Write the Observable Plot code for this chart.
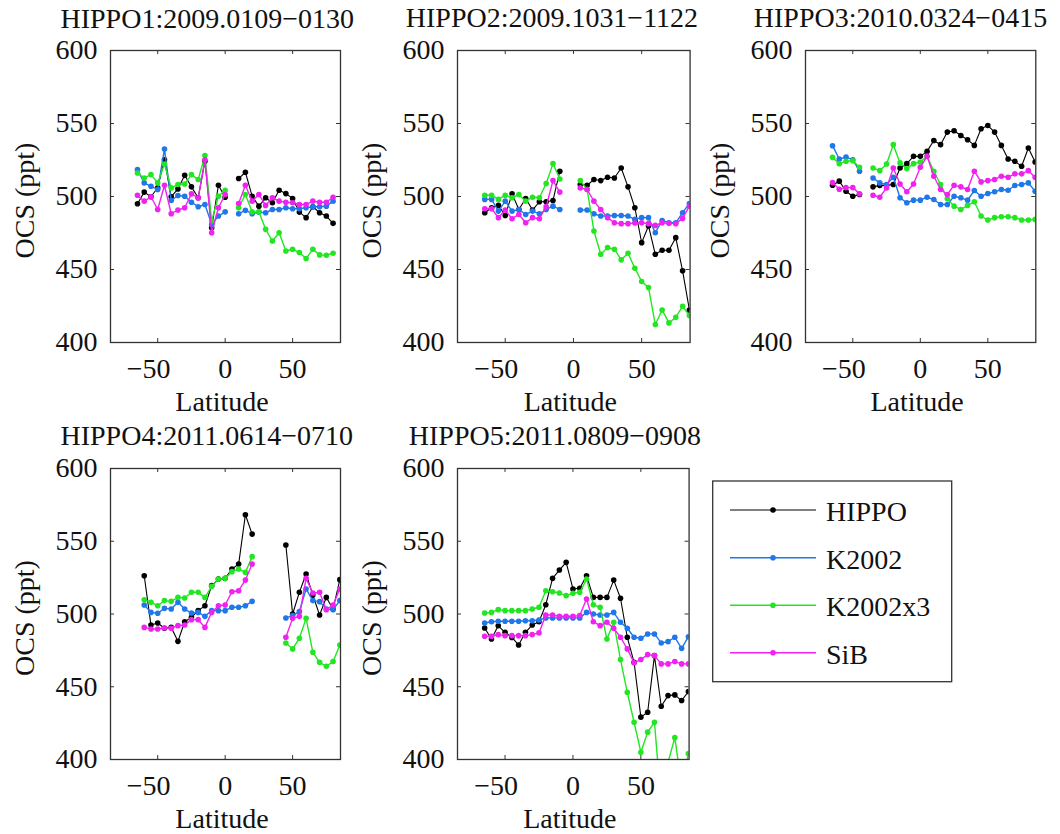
<!DOCTYPE html>
<html><head><meta charset="utf-8">
<script src="https://cdn.jsdelivr.net/npm/d3@7"></script>
<script src="https://cdn.jsdelivr.net/npm/@observablehq/plot@0.6"></script>
<style>
html,body{margin:0;padding:0;background:#fff;}
#chart{position:relative;width:1060px;height:834px;overflow:hidden;background:#fff;}
.panel{position:absolute;}
.panel svg{overflow:visible;display:block;max-width:none;}
</style></head><body><div id="chart"></div>
<script>
// ---------------- data ----------------
const seriesNames = ["HIPPO", "K2002", "K2002x3", "SiB"];
const xTicks = [-50, 0, 50];
const yTicks = [400, 450, 500, 550, 600];
const titles = ["HIPPO1:2009.0109\u22120130", "HIPPO2:2009.1031\u22121122", "HIPPO3:2010.0324\u22120415",
                "HIPPO4:2011.0614\u22120710", "HIPPO5:2011.0809\u22120908"];

// HIPPO1
const p1Lat = [-65,-60,-55,-50,-45,-40,-35,-30,-25,-20,-15,-10,-5,0,5,10,15,20,25,30,35,40,45,50,55,60,65,70,75,80];
const p1Hippo = [495.0,503.0,499.8,506.0,525.2,499.8,505.2,514.5,506.6,499.1,524.1,478.6,507.7,499.5,null,512.3,516.6,500.2,493.4,499.1,495.7,504.3,502.0,498.6,489.3,485.5,493.0,488.9,486.6,481.6];
const p1K2002 = [518.4,509.3,507.0,504.8,532.5,497.3,500.7,500.2,496.1,493.0,494.5,480.9,486.6,489.5,null,488.2,490.5,488.2,489.3,488.9,491.1,491.1,492.3,491.6,491.6,492.3,493.0,493.0,493.4,496.8];
const p1K2002x3 = [516.1,512.7,515.0,509.3,522.3,505.9,508.2,508.6,515.0,511.6,528.0,483.2,500.2,504.3,null,492.3,501.4,489.5,489.5,477.5,469.5,475.2,462.7,463.9,461.6,457.5,463.9,460.0,459.8,461.1];
const p1SiB = [500.9,496.8,499.8,491.1,507.7,488.2,490.7,492.3,501.8,499.1,525.2,475.2,492.3,501.4,null,495.2,507.7,496.8,501.4,493.9,499.1,496.8,496.1,495.7,494.5,494.5,496.8,496.1,496.1,499.5];

// HIPPO2
const p2Lat = [-65,-60,-55,-50,-45,-40,-35,-30,-25,-20,-15,-10,-5,0,5,10,15,20,25,30,35,40,45,50,55,60,65,70,75,80,85];
const p2Hippo = [488.9,492.3,493.9,487.0,501.8,491.1,498.6,490.7,496.4,496.4,497.3,517.3,null,null,508.2,507.7,511.6,510.9,513.2,512.7,519.5,506.6,492.3,468.4,479.8,460.4,463.2,463.2,471.8,449.1,422.3];
const p2K2002 = [498.0,498.0,490.0,496.8,490.0,491.1,487.7,490.0,488.2,491.1,493.4,491.1,null,null,490.7,490.7,488.2,486.6,486.6,487.0,487.0,486.6,484.3,485.5,485.5,475.2,483.6,482.0,482.0,488.9,495.2];
const p2K2002x3 = [500.9,500.9,498.0,500.9,499.1,501.4,496.8,499.5,499.1,508.9,522.5,512.0,null,null,510.9,504.8,476.4,460.4,465.0,463.9,456.6,461.1,450.9,441.8,437.7,412.3,422.3,413.4,417.3,424.8,418.4];
const p2SiB = [491.6,491.6,485.5,490.7,484.8,487.7,482.0,485.5,484.8,493.0,510.9,503.0,null,null,505.9,504.8,496.8,491.1,485.5,482.0,481.4,481.4,481.8,482.0,481.4,480.2,482.0,481.6,481.4,485.0,493.4];

// HIPPO3
const p3Lat = [-65,-60,-55,-50,-45,-40,-35,-30,-25,-20,-15,-10,-5,0,5,10,15,20,25,30,35,40,45,50,55,60,65,70,75,80,85];
const p3Hippo = [507.7,510.5,503.6,500.2,501.4,null,506.6,507.5,507.7,508.2,519.5,522.5,527.5,527.5,530.9,538.4,535.5,544.1,545.0,541.8,538.9,535.0,546.4,548.6,544.1,535.0,525.7,524.1,520.7,533.2,523.6];
const p3K2002 = [534.8,525.7,527.0,525.2,517.3,null,512.7,509.3,508.2,513.2,499.1,495.7,497.5,497.5,499.5,497.9,494.5,494.5,500.2,499.1,497.5,504.1,500.2,502.0,503.2,504.8,504.3,507.5,508.2,509.3,503.6];
const p3K2002x3 = [526.8,522.5,524.1,524.5,520.0,null,519.5,517.7,522.3,535.5,523.0,519.1,522.5,523.6,527.5,517.3,508.2,498.4,493.4,491.1,493.9,496.4,486.6,483.9,485.5,486.1,486.1,485.5,483.9,483.9,484.3];
const p3SiB = [509.5,505.0,506.1,506.1,501.8,null,500.9,499.5,505.9,519.5,508.6,503.2,508.6,520.0,527.5,513.9,504.8,501.4,507.7,506.6,504.8,517.3,510.0,510.9,511.6,513.9,513.2,515.5,515.5,517.7,513.2];

// HIPPO4
const p4Lat = [-60,-55,-50,-45,-40,-35,-30,-25,-20,-15,-10,-5,0,5,10,15,20,25,30,35,40,45,50,55,60,65,70,75,80,85];
const p4Hippo = [526.3,492.4,493.8,490.2,490.8,481.2,494.7,497.7,502.3,505.7,519.5,524.0,524.5,530.9,534.3,568.2,554.9,null,null,null,null,547.4,500.0,514.9,527.5,513.0,499.3,511.4,503.4,523.6];
const p4K2002 = [506.2,501.1,500.5,503.9,503.4,508.0,503.4,500.7,501.1,498.4,502.3,502.3,502.3,504.6,504.6,505.7,508.7,null,null,null,null,497.3,498.9,501.6,517.2,509.2,508.5,503.4,503.0,509.2];
const p4K2002x3 = [509.8,508.0,505.7,509.2,508.7,511.4,511.0,514.9,514.9,511.4,519.0,524.0,524.5,529.1,530.9,528.6,539.4,null,null,null,null,480.1,476.0,483.3,497.0,473.7,466.8,464.1,467.3,478.7];
const p4SiB = [490.8,489.7,489.7,490.4,490.2,492.0,492.4,496.1,496.1,490.8,501.1,505.7,506.2,515.3,516.0,523.3,534.3,null,null,null,null,484.0,497.0,498.4,524.5,514.4,514.9,503.0,506.2,517.2];

// HIPPO5
const p5Lat = [-65,-60,-55,-50,-45,-40,-35,-30,-25,-20,-15,-10,-5,0,5,10,15,20,25,30,35,40,45,50,55,60,65,70,75,80,85];
const p5Hippo = [490.4,482.8,491.9,487.4,483.9,478.7,487.4,492.4,494.7,506.4,524.5,530.2,535.5,517.2,517.7,526.3,511.4,511.4,511.4,523.3,510.8,484.0,466.8,429.1,432.5,471.4,436.6,443.9,444.4,440.5,446.7];
const p5K2002 = [493.8,494.7,495.0,495.0,495.0,495.0,495.4,495.4,495.9,497.3,497.3,497.3,497.3,497.3,497.3,501.1,500.0,499.3,499.3,501.1,494.3,490.2,484.0,483.3,486.3,486.3,480.1,481.0,484.0,476.4,484.4];
const p5K2002x3 = [500.7,501.1,503.0,502.3,502.3,502.3,502.3,503.4,504.6,516.0,515.3,514.4,512.6,514.2,514.9,524.0,506.4,504.6,482.8,494.3,468.7,446.2,425.6,405.0,418.8,425.6,369.0,398.0,415.0,382.0,404.0];
const p5SiB = [484.7,484.7,485.8,485.1,485.1,485.1,485.1,485.8,487.0,499.3,499.3,498.4,498.4,498.4,498.9,510.3,494.7,492.0,494.3,490.2,484.0,476.0,466.4,468.7,472.1,471.4,465.7,465.7,467.3,465.7,465.7];

// ---------------- styles / layout ----------------
const seriesColors = ["#000000", "#1f77e8", "#22e622", "#f022f0"];
const seriesWidths = [1.1, 1.4, 1.4, 1.4];
const FONT = "'Liberation Serif','Times New Roman',serif";
const FS = 28;
const INK = "#111";
const AXC = "#333";

const panels = [
  {lat: p1Lat, vals: [p1Hippo, p1K2002, p1K2002x3, p1SiB], title: titles[0], frame: [110, 50, 340, 342], titleX: 60, titleBase: 27},
  {lat: p2Lat, vals: [p2Hippo, p2K2002, p2K2002x3, p2SiB], title: titles[1], frame: [456.7, 50, 689.3, 342], titleX: 405, titleBase: 27},
  {lat: p3Lat, vals: [p3Hippo, p3K2002, p3K2002x3, p3SiB], title: titles[2], frame: [804.7, 50, 1035, 342], titleX: 753, titleBase: 27},
  {lat: p4Lat, vals: [p4Hippo, p4K2002, p4K2002x3, p4SiB], title: titles[3], frame: [110, 468.3, 340, 759.3], titleX: 60, titleBase: 444.5},
  {lat: p5Lat, vals: [p5Hippo, p5K2002, p5K2002x3, p5SiB], title: titles[4], frame: [456.7, 468.3, 688.3, 759.3], titleX: 408, titleBase: 444.5}
];

const chart = document.getElementById("chart");
const fmt = d => d < 0 ? "\u2212" + (-d) : String(d);

function makePanel(cfg) {
  const [fl, ft, fr, fb] = cfg.frame;
  const mL = 120, mR = 30, mT = 60, mB = 90;
  const W = fr - fl, H = fb - ft;
  const rows = seriesNames.flatMap((name, i) => cfg.lat.map((d, j) => ({lat: d, ocs: cfg.vals[i][j], series: name})));
  const marks = [];
  seriesNames.forEach((name, i) => {
    const data = rows.filter(r => r.series === name);
    marks.push(Plot.line(data, {x: "lat", y: "ocs", stroke: seriesColors[i], strokeWidth: seriesWidths[i], clip: true}));
    marks.push(Plot.dot(data, {x: "lat", y: "ocs", r: 2.8, fill: seriesColors[i], stroke: "none", clip: true}));
  });
  // x tick labels (negative labels hang their minus sign to the left, as in the original)
  marks.push(Plot.axisX(xTicks.filter(d => d < 0), {anchor: "bottom", tickSize: 0, tickPadding: 16, tickFormat: fmt, dx: -9, label: null, fill: INK}));
  marks.push(Plot.axisX(xTicks.filter(d => d >= 0), {anchor: "bottom", tickSize: 0, tickPadding: 16, tickFormat: fmt, label: null, fill: INK}));
  // inward ticks on all four sides
  marks.push(Plot.tickX(xTicks, {x: d => d, insetTop: H - 4, stroke: AXC, strokeWidth: 1}));
  marks.push(Plot.tickX(xTicks, {x: d => d, insetBottom: H - 4, stroke: AXC, strokeWidth: 1}));
  marks.push(Plot.tickY(yTicks, {y: d => d, insetRight: W - 4, stroke: AXC, strokeWidth: 1}));
  marks.push(Plot.tickY(yTicks, {y: d => d, insetLeft: W - 4, stroke: AXC, strokeWidth: 1}));
  marks.push(Plot.frame({stroke: AXC, strokeWidth: 1.3}));
  // texts
  marks.push(Plot.text([cfg.title], {text: d => d, frameAnchor: "top-left", textAnchor: "start", lineAnchor: "bottom",
    dx: cfg.titleX - fl, dy: cfg.titleBase - ft, fontSize: FS, fill: INK}));
  marks.push(Plot.text(["Latitude"], {text: d => d, frameAnchor: "bottom", textAnchor: "middle", lineAnchor: "bottom",
    dx: -3.5, dy: 68.5, fontSize: FS, fill: INK}));
  marks.push(Plot.text(["OCS (ppt)"], {text: d => d, frameAnchor: "left", textAnchor: "middle", lineAnchor: "bottom",
    rotate: -90, dx: -76.7, dy: 4, fontSize: FS, fill: INK}));

  const svg = Plot.plot({
    width: W + mL + mR, height: H + mT + mB,
    marginLeft: mL, marginRight: mR, marginTop: mT, marginBottom: mB,
    style: {fontFamily: FONT, fontSize: FS + "px", color: INK, background: "transparent", overflow: "visible", maxWidth: "none"},
    x: {domain: [-85, 85.5], axis: null},
    y: {domain: [400, 600], ticks: yTicks, tickSize: 0, tickPadding: 13, tickFormat: fmt, label: null},
    marks
  });
  const div = document.createElement("div");
  div.className = "panel";
  div.style.left = (fl - mL) + "px";
  div.style.top = (ft - mT) + "px";
  div.style.width = (W + mL + mR) + "px";
  div.style.height = (H + mT + mB) + "px";
  div.appendChild(svg);
  chart.appendChild(div);
}
panels.forEach(makePanel);

// ---------------- legend ----------------
const legBox = {x: 712.7, y: 481, w: 239, h: 200.7};
const legRows = [510, 557.7, 605.3, 652.7];
const leg = d3.select(chart).append("svg")
  .attr("width", 1060).attr("height", 834)
  .style("position", "absolute").style("left", "0px").style("top", "0px");
leg.append("rect").attr("x", legBox.x).attr("y", legBox.y).attr("width", legBox.w).attr("height", legBox.h)
  .attr("fill", "white").attr("stroke", AXC).attr("stroke-width", 1.3);
seriesNames.forEach((name, i) => {
  const g = leg.append("g");
  g.append("line").attr("x1", 730).attr("x2", 816).attr("y1", legRows[i]).attr("y2", legRows[i])
    .attr("stroke", seriesColors[i]).attr("stroke-width", seriesWidths[i]);
  g.append("circle").attr("cx", 773).attr("cy", legRows[i]).attr("r", 2.8).attr("fill", seriesColors[i]);
  g.append("text").attr("x", 826).attr("y", legRows[i] + 11).attr("font-family", FONT).attr("font-size", FS)
    .attr("fill", INK).text(name);
});
</script></body></html>
